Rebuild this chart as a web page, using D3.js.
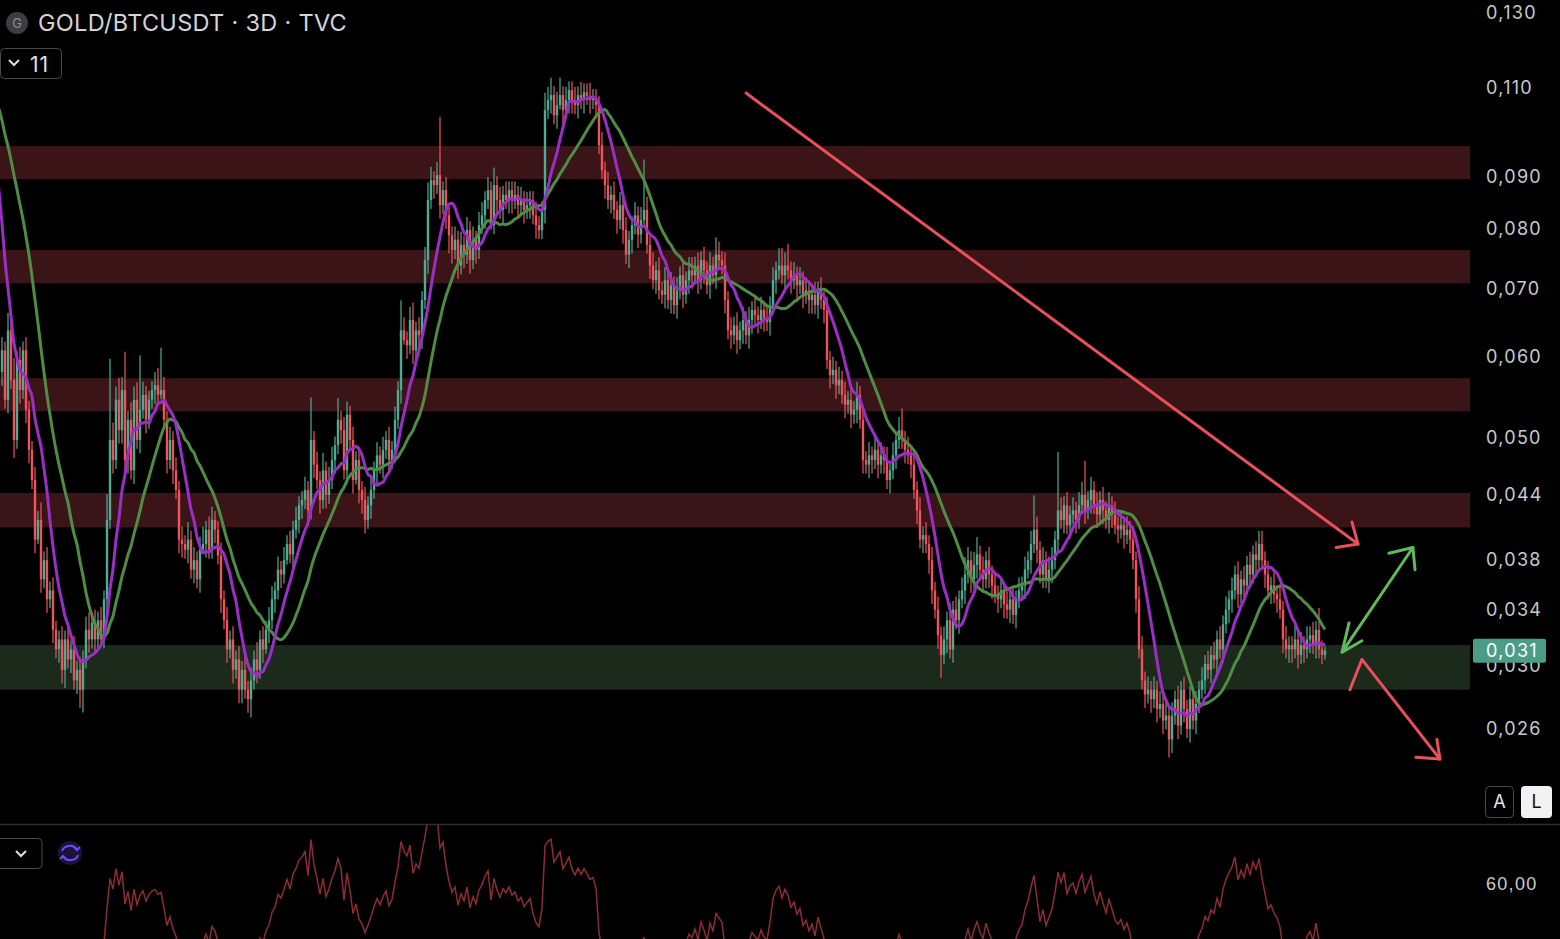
<!DOCTYPE html>
<html>
<head>
<meta charset="utf-8">
<script src="https://cdn.jsdelivr.net/npm/d3@7"></script>
<style>
html, body { margin: 0; padding: 0; background: #000; overflow: hidden; }
svg { display: block; font-family: Inter, "Noto Sans", sans-serif; }
</style>
</head>
<body>
<script>
// closes before the visible window (they only feed the MAs and RSI), x0.001
const warmup = [118,121,117,119,116,120,117,118,119,115,121,117,115,112,105,95,85,78,70,65,58];

// visible 3D closes, x0.001
const closes = [
  60.9,54.5,63.7,57.0,49.8,59.6,55.7,60.9,53.3,48.7,
  45.5,39.8,41.6,36.4,38.0,34.8,35.5,32.5,31.1,31.8,
  29.7,31.8,30.4,31.1,29.0,29.7,28.4,30.4,32.5,31.8,
  33.0,31.8,33.2,31.8,34.8,41.6,49.8,47.6,54.5,50.9,
  55.7,47.6,52.1,46.5,54.5,49.8,53.3,55.1,52.1,54.5,
  55.7,56.3,55.1,55.7,52.1,47.6,49.8,46.5,44.5,39.8,
  39.4,38.9,39.8,37.2,38.0,36.4,38.9,39.4,40.7,38.9,
  41.6,40.7,38.4,34.8,33.2,31.1,31.8,29.7,30.4,28.4,
  29.7,28.4,27.8,29.0,30.4,29.7,31.8,31.1,32.5,33.2,
  34.8,35.5,37.2,36.8,38.0,39.4,38.5,40.7,41.6,43.0,
  43.5,44.5,42.5,49.8,47.1,45.5,43.5,46.5,44.0,45.5,
  47.6,49.2,52.1,50.9,46.5,52.7,49.8,45.5,47.6,44.5,
  43.5,41.6,43.0,44.5,46.5,48.1,47.1,48.7,49.8,47.6,
  48.7,52.1,55.7,63.7,62.3,61.6,65.2,60.9,63.7,63.0,
  68.2,74.6,85.4,89.3,88.3,90.3,84.4,87.3,82.5,78.9,
  76.3,78.1,73.7,77.2,75.5,79.8,74.6,78.1,76.3,80.7,
  82.5,85.4,87.3,80.7,88.3,85.4,83.5,86.4,85.4,87.3,
  85.4,86.4,84.4,85.4,83.5,84.4,85.4,82.5,80.7,79.8,
  83.5,104.5,106.9,108.1,103.3,105.7,108.1,104.5,106.9,109.3,
  106.9,105.7,108.1,106.9,108.8,107.9,106.9,107.4,105.7,96.6,
  91.3,88.3,85.4,86.4,83.5,81.6,84.4,79.8,75.5,78.1,
  80.7,82.5,79.0,81.6,83.5,77.2,73.7,71.3,72.9,69.7,
  69.0,71.3,68.2,70.5,67.4,69.7,72.1,69.0,71.3,72.9,
  72.1,73.7,71.3,74.6,72.9,70.5,73.7,72.1,75.5,74.6,
  73.7,68.2,63.7,63.0,64.4,62.3,63.7,65.2,63.0,65.2,
  66.7,65.9,65.2,66.7,65.5,64.9,67.4,71.3,72.9,73.7,
  72.1,73.7,72.9,71.3,72.1,70.5,71.3,69.0,69.7,68.2,
  69.0,67.4,69.7,68.2,66.7,59.6,57.6,58.3,56.3,57.0,
  55.1,53.9,54.5,52.7,53.3,55.1,52.1,47.6,47.1,48.1,
  47.6,48.7,47.1,48.1,47.6,45.5,46.5,48.1,49.8,50.9,
  49.8,48.7,48.1,47.1,44.5,42.5,39.8,40.2,39.4,38.0,
  35.5,34.0,32.1,30.7,31.8,33.2,31.1,34.0,33.2,34.8,
  35.5,36.8,38.0,36.4,37.6,38.5,37.2,36.4,38.0,36.8,
  35.9,35.2,34.8,35.5,34.4,34.0,34.8,33.6,34.8,35.5,
  35.9,37.2,38.0,39.4,40.7,38.9,36.8,38.0,36.4,37.2,
  38.0,39.8,42.5,41.6,43.0,41.1,42.1,42.5,41.6,43.0,
  44.0,42.5,43.5,44.5,43.0,42.1,43.5,42.5,41.6,43.0,
  42.1,41.1,40.7,41.1,40.2,40.7,39.8,38.0,34.8,31.1,
  29.0,28.1,28.4,27.8,28.4,27.2,27.5,26.5,26.8,25.4,
  26.8,27.8,26.2,28.4,27.2,26.0,27.8,26.5,27.5,28.4,
  29.0,30.1,29.7,30.7,30.4,31.8,31.1,32.9,34.0,34.8,
  35.5,36.8,35.2,36.4,35.9,37.6,36.8,38.5,38.0,39.4,
  38.0,36.8,35.5,35.9,35.2,34.8,34.0,31.8,31.1,31.4,
  31.1,31.8,30.7,31.4,31.1,31.8,32.1,31.4,32.5,31.1,30.7,31.0
];

// wick beyond the body, percent of price
const wickUp = [
  3,2,4,2,5,2,3,2,3,2, 2,3,2,4,2,3,2,3,2,2, 3,2,4,2,3,2,3,2,3,4, 2,3,2,3,2,6,20,4,3,5,
  3,9,2,4,3,4,13,3,2,2, 2,3,4,10,3,2,3,2,3,2, 3,2,4,2,3,2,3,4,2,3, 3,2,2,3,2,3,2,3,2,3,
  2,3,2,3,2,4,2,3,2,3, 3,2,3,2,3,2,3,2,3,2, 2,3,2,10,2,3,2,4,2,3, 3,2,5,2,3,3,2,3,2,3,
  2,3,2,3,2,3,2,3,2,3, 2,3,2,7,3,2,3,4,2,3, 2,3,4,3,2,3,14,2,3,2, 2,3,2,3,2,3,2,3,2,3,
  3,2,3,2,4,2,3,2,3,2, 2,3,2,3,2,3,2,2,3,2, 2,4,3,4,2,3,4,2,3,2, 2,3,2,3,2,2,3,2,2,2,
  3,2,3,2,3,2,3,2,3,2, 2,3,2,3,12,3,2,3,2,3, 2,3,2,3,2,3,2,3,2,3, 3,2,3,2,3,2,3,2,4,3,
  2,3,2,3,2,3,2,3,2,3, 2,3,2,3,2,3,2,3,2,4, 4,3,5,2,3,2,3,2,3,2, 2,3,2,3,2,3,2,3,2,3,
  2,3,2,3,2,3,2,3,2,3, 2,3,2,3,2,3,2,3,2,3, 5,2,3,2,3,2,3,2,3,2, 3,2,3,2,3,2,4,2,3,2,
  3,4,3,2,3,4,2,3,2,3, 2,3,2,3,2,3,2,3,2,3, 2,3,2,3,8,3,2,3,2,3, 3,2,14,3,2,3,2,3,2,3,
  3,8,2,3,2,3,2,3,2,3, 2,3,2,3,2,3,2,3,2,3, 3,2,3,2,3,2,3,2,3,2, 3,2,3,2,3,2,3,2,3,2,
  3,2,3,2,3,2,3,2,3,2, 3,2,3,2,3,2,3,2,3,3, 3,2,3,2,3,2,3,2,3,2, 2,3,2,3,2,3,2,3,2,5,2,1
];
const wickDn = [
  3,2,3,2,4,2,3,2,3,3, 2,3,1,3,2,3,2,3,2,3, 3,4,2,3,2,3,4,5,2,3, 2,3,2,1,2,3,2,3,2,3,
  3,2,3,2,3,2,3,2,3,2, 2,3,2,1,2,3,2,3,2,3, 3,2,3,2,3,2,3,1,3,2, 2,3,2,3,2,3,2,3,2,3,
  3,2,3,4,2,3,2,3,1,3, 2,3,2,3,2,1,2,3,2,3, 3,2,3,2,3,2,3,2,3,2, 2,3,2,3,2,3,2,3,1,3,
  3,3,2,3,2,3,2,3,2,3, 2,3,2,3,1,3,2,3,2,3, 3,2,3,2,3,2,3,2,3,4, 3,2,3,2,3,2,3,2,3,2,
  2,3,2,1,2,3,2,3,2,3, 3,2,3,2,3,2,3,2,3,2, 2,3,2,3,2,3,1,3,2,3, 3,2,3,2,3,2,3,2,3,2,
  2,3,2,3,2,3,2,3,2,3, 3,2,3,2,1,2,3,2,3,2, 2,3,2,3,2,3,2,3,2,3, 3,2,3,2,3,2,3,2,3,2,
  2,3,2,3,2,3,2,3,2,3, 3,2,3,2,3,2,3,2,3,2, 2,3,2,3,2,3,2,3,2,3, 3,2,3,2,3,2,3,2,3,2,
  2,3,2,3,2,3,2,3,2,3, 3,2,3,2,3,2,3,2,3,2, 2,3,2,3,2,3,2,3,2,3, 3,2,3,5,2,3,2,3,2,3,
  2,3,2,3,2,3,2,3,2,3, 3,2,3,2,3,2,3,2,3,2, 2,3,2,3,2,3,2,3,2,3, 3,2,3,2,3,2,3,2,3,2,
  2,3,2,3,2,3,2,3,2,3, 3,2,3,2,3,2,3,2,3,2, 2,3,2,3,2,3,2,3,2,4, 3,2,3,2,3,2,3,2,3,2,
  2,3,2,3,2,3,2,3,2,3, 3,2,3,2,3,2,3,2,3,2, 2,3,2,3,2,3,2,3,2,3, 3,2,3,2,3,2,3,2,3,2,2,1
];

const priceTicks = [0.130, 0.110, 0.090, 0.080, 0.070, 0.060, 0.050, 0.044, 0.038, 0.034, 0.030, 0.026];
const lastPrice = 0.031;
const redZones = [[0.0895, 0.0964], [0.0708, 0.0763], [0.0531, 0.0572], [0.0409, 0.0442]];
const greenZone = [0.0284, 0.0314];

// hand-drawn annotations as [candle index, price]
const trendLine = [[248.0, 0.1086], [452.0, 0.0394]];
const trendHead = [[444.7, 0.0391], [452.0, 0.0394], [450.0, 0.0414]];
const upArrow = [[446.7, 0.0309], [470.3, 0.0391]];
const upHeadTop = [[462.3, 0.0386], [470.3, 0.0391], [471.0, 0.0372]];
const upHeadBottom = [[449.0, 0.0330], [446.7, 0.0309], [453.3, 0.0317]];
const downArrow = [[449.3, 0.0284], [453.3, 0.0304], [479.3, 0.0243]];
const downHead = [[471.3, 0.0244], [479.3, 0.0243], [478.3, 0.0254]];

const width = 1560, height = 939;
const plotW = 1470, mainH = 824;
const upCol = "#4fab92", dnCol = "#ee545b";

let svg = d3.select("body").append("svg")
    .attr("width", width)
    .attr("height", height)
    .style("background-color", "#000");

let defs = svg.append("defs");
defs.append("clipPath").attr("id", "clipMain")
    .append("rect").attr("x", 0).attr("y", 0).attr("width", plotW).attr("height", mainH);
defs.append("clipPath").attr("id", "clipLow")
    .append("rect").attr("x", 0).attr("y", mainH + 1).attr("width", plotW).attr("height", height - mainH);

let x = d3.scaleLinear().domain([0, closes.length - 1]).range([2, 1325]);
let y = d3.scaleLog().domain([0.026, 0.13]).range([729, 13]);

const W = warmup.length;
const all = warmup.concat(closes).map(d => d / 1000);

let candles = closes.map(function(c, i) {
    const close = c / 1000, open = all[W + i - 1];
    return {
        i: i, open: open, close: close,
        hi: Math.max(open, close) * (1 + wickUp[i] / 100),
        lo: Math.min(open, close) * (1 - wickDn[i] / 100)
    };
});

function sma(n) {
    let out = [];
    for (let k = n - 1; k < all.length; k++) {
        out.push({ i: k - W, v: d3.mean(all.slice(k - n + 1, k + 1)) });
    }
    return out;
}

function rsi(n) {
    let out = [], g = 0, l = 0;
    for (let k = 1; k < all.length; k++) {
        const ch = all[k] - all[k - 1];
        const up = Math.max(ch, 0), dn = Math.max(-ch, 0);
        if (k <= n) {
            g += up / n; l += dn / n;
            if (k < n) continue;
        } else {
            g = (g * (n - 1) + up) / n;
            l = (l * (n - 1) + dn) / n;
        }
        out.push({ i: k - W, v: l === 0 ? 100 : 100 - 100 / (1 + g / l) });
    }
    return out;
}

let main = svg.append("g").attr("clip-path", "url(#clipMain)");

// zones
main.selectAll(".zone")
    .data(redZones.map(d => ({ lo: d[0], hi: d[1], c: "#3a1417" })).concat([{ lo: greenZone[0], hi: greenZone[1], c: "#1b2a1b" }]))
    .enter().append("rect")
        .attr("x", 0)
        .attr("width", plotW)
        .attr("y", d => y(d.hi))
        .attr("height", d => y(d.lo) - y(d.hi))
        .style("fill", d => d.c);

// candles
let cg = main.append("g");
cg.selectAll(".wick")
    .data(candles)
    .enter().append("rect")
        .attr("x", d => x(d.i) - 0.6)
        .attr("width", 1.2)
        .attr("y", d => y(d.hi))
        .attr("height", d => y(d.lo) - y(d.hi))
        .style("fill", d => d.close >= d.open ? upCol : dnCol);
cg.selectAll(".body")
    .data(candles)
    .enter().append("rect")
        .attr("x", d => x(d.i) - 1.2)
        .attr("width", 2.4)
        .attr("y", d => y(Math.max(d.open, d.close)))
        .attr("height", d => Math.max(1, Math.abs(y(d.open) - y(d.close))))
        .style("fill", d => d.close >= d.open ? upCol : dnCol);

// moving averages
let line = d3.line().x(d => x(d.i)).y(d => y(d.v)).curve(d3.curveMonotoneX);
main.append("path").datum(sma(21))
    .attr("d", line)
    .style("fill", "none").style("stroke", "#4f8c44").style("stroke-width", 3);
main.append("path").datum(sma(9))
    .attr("d", line)
    .style("fill", "none").style("stroke", "#9b2ec4").style("stroke-width", 3);

// annotations (they reach past the plot edge, so no clip)
let notes = svg.append("g");
let pl = d3.line().x(d => x(d[0])).y(d => y(d[1]));
function draw(pts, col) {
    notes.append("path").attr("d", pl(pts))
        .style("fill", "none").style("stroke", col).style("stroke-width", 3)
        .style("stroke-linecap", "round").style("stroke-linejoin", "round");
}
draw(trendLine, "#ea4f5b");
draw(trendHead, "#ea4f5b");
draw(upArrow, "#63b85c");
draw(upHeadTop, "#63b85c");
draw(upHeadBottom, "#63b85c");
draw(downArrow, "#ea4f5b");
draw(downHead, "#ea4f5b");

// price axis
let fmt = d => d3.format(".3f")(d).replace(".", ",");
let ax = svg.append("g")
    .attr("transform", "translate(1486,0)")
    .call(d3.axisRight(y).tickValues(priceTicks).tickSize(0).tickPadding(0).tickFormat(fmt));
ax.select(".domain").remove();
ax.selectAll("text")
    .style("font-size", "18px")
    .style("font-family", "Inter, 'Noto Sans', sans-serif")
    .style("letter-spacing", "1.3px")
    .style("fill", "#c9c9cc");

// last price tag (covers the upper half of the 0,030 label, as in the app)
svg.append("rect")
    .attr("x", 1473).attr("y", y(lastPrice) - 12)
    .attr("width", 73).attr("height", 24).attr("rx", 2)
    .style("fill", "#4a9e88");
svg.append("text")
    .text(fmt(lastPrice))
    .attr("x", 1486).attr("y", y(lastPrice))
    .attr("dy", "0.35em")
    .style("font-size", "18px").style("letter-spacing", "1.3px")
    .style("fill", "#ffffff");

// pane separator
svg.append("line")
    .attr("x1", 0).attr("x2", width).attr("y1", mainH + 0.5).attr("y2", mainH + 0.5)
    .style("stroke", "#2e2e30").style("stroke-width", 1.5);

// lower pane: RSI
let ry = d3.scaleLinear().domain([40, 80]).range([950, 818]);
svg.append("g").attr("clip-path", "url(#clipLow)")
    .append("path").datum(rsi(14))
    .attr("d", d3.line().x(d => x(d.i)).y(d => ry(d.v)))
    .style("fill", "none").style("stroke", "#8c2d33").style("stroke-width", 1.5);
let rax = svg.append("g")
    .attr("transform", "translate(1486,0)")
    .call(d3.axisRight(ry).tickValues([60]).tickSize(0).tickPadding(0)
        .tickFormat(d => d3.format(".2f")(d).replace(".", ",")));
rax.select(".domain").remove();
rax.selectAll("text")
    .style("font-size", "18px").style("letter-spacing", "1.3px")
    .style("fill", "#c9c9cc");

// header
svg.append("circle").attr("cx", 17).attr("cy", 23).attr("r", 11).style("fill", "#3d3d3f");
svg.append("text").text("G")
    .attr("x", 17).attr("y", 23).attr("dy", "0.36em").attr("text-anchor", "middle")
    .style("font-size", "13px").style("fill", "#8d8d90");
svg.append("text").text("GOLD/BTCUSDT \u00b7 3D \u00b7 TVC")
    .attr("x", 38).attr("y", 23).attr("dy", "0.36em")
    .style("font-size", "23.5px").style("letter-spacing", "0.3px").style("fill", "#d4d4d8");

svg.append("rect")
    .attr("x", 0.5).attr("y", 48.5).attr("width", 61).attr("height", 30).attr("rx", 4)
    .style("fill", "none").style("stroke", "#4a4a4d");
svg.append("path").attr("d", "M9,60 l5,5 l5,-5")
    .style("fill", "none").style("stroke", "#e0e0e0").style("stroke-width", 2);
svg.append("text").text("11")
    .attr("x", 30).attr("y", 64).attr("dy", "0.36em")
    .style("font-size", "21px").style("letter-spacing", "1px").style("fill", "#e0e0e0");

// lower pane controls
svg.append("rect")
    .attr("x", -4).attr("y", 838.5).attr("width", 46).attr("height", 30).attr("rx", 4)
    .style("fill", "none").style("stroke", "#4a4a4d");
svg.append("path").attr("d", "M16,851 l5,5 l5,-5")
    .style("fill", "none").style("stroke", "#e0e0e0").style("stroke-width", 2);
svg.append("circle").attr("cx", 70).attr("cy", 853).attr("r", 12).style("fill", "#1d1238");
svg.append("path").attr("d", "M62,851 A8,7 0 0 1 77,850 M74,847 l3,3 l3,-3 M78,855 A8,7 0 0 1 63,856 M66,859 l-3,-3 l-3,3")
    .style("fill", "none").style("stroke", "#6e4cff").style("stroke-width", 2);

// A / L buttons
svg.append("rect")
    .attr("x", 1485.5).attr("y", 786.5).attr("width", 28).attr("height", 31).attr("rx", 4)
    .style("fill", "#000").style("stroke", "#4a4a4d");
svg.append("text").text("A")
    .attr("x", 1499.5).attr("y", 802).attr("dy", "0.36em").attr("text-anchor", "middle")
    .style("font-size", "18px").style("fill", "#e6e6e6");
svg.append("rect")
    .attr("x", 1521).attr("y", 786).attr("width", 31).attr("height", 32).attr("rx", 4)
    .style("fill", "#f2f2f2");
svg.append("text").text("L")
    .attr("x", 1536.5).attr("y", 802).attr("dy", "0.36em").attr("text-anchor", "middle")
    .style("font-size", "18px").style("fill", "#111");
</script>
</body>
</html>
